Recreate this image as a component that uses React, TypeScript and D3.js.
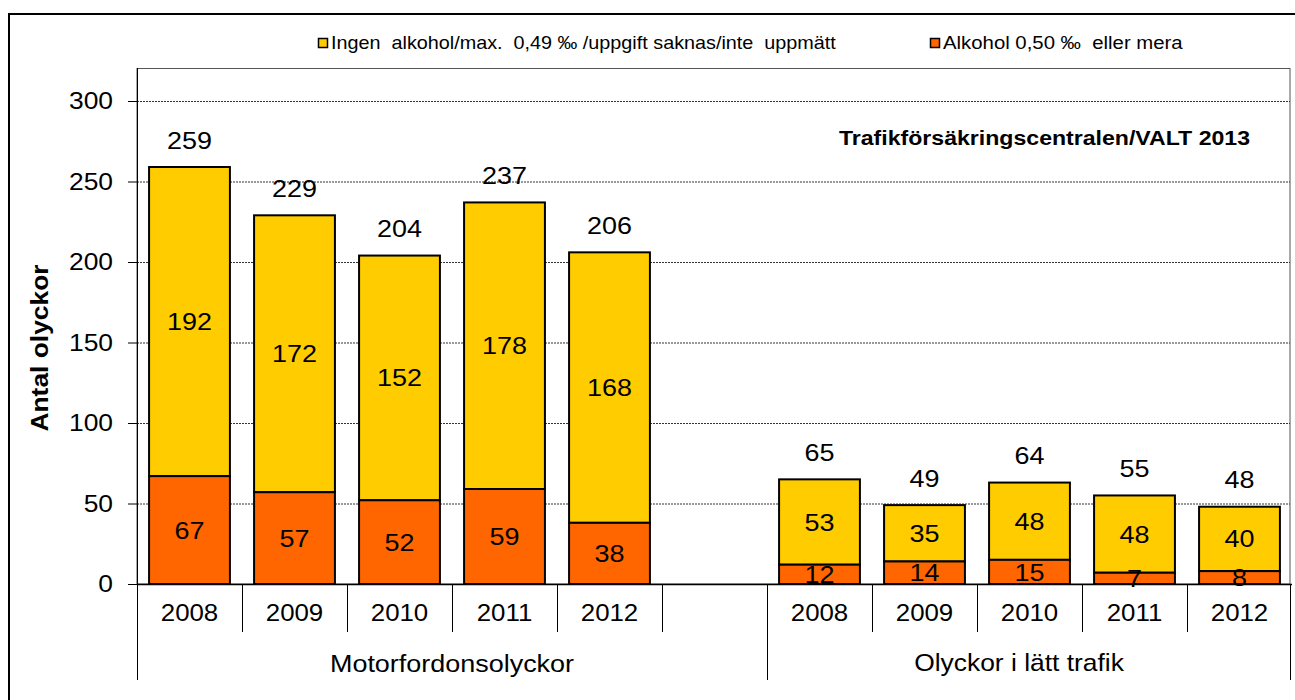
import React from "react";
import * as d3 from "d3";

const years = ["2008", "2009", "2010", "2011", "2012"];
const groups = ["Motorfordonsolyckor", "Olyckor i lätt trafik"];
const motorAlcohol = [67, 57, 52, 59, 38];
const motorNoAlcohol = [192, 172, 152, 178, 168];
const motorTotals = [259, 229, 204, 237, 206];
const lightAlcohol = [12, 14, 15, 7, 8];
const lightNoAlcohol = [53, 35, 48, 48, 40];
const lightTotals = [65, 49, 64, 55, 48];
const yTicks = [0, 50, 100, 150, 200, 250, 300];
const legendLabels = [
  "Ingen  alkohol/max.  0,49 ‰ /uppgift saknas/inte  uppmätt",
  "Alkohol 0,50 ‰  eller mera",
];
const source = "Trafikförsäkringscentralen/VALT 2013";
const yTitle = "Antal olyckor";

const W = 1295;
const H = 700;
const left = 137;
const right = 1292;
const top = 101;
const bottom = 584;
const YELLOW = "#FFCC00";
const ORANGE = "#FF6600";
const FONT = "'Liberation Sans', Arial, sans-serif";
const SX = 1.1;

type Row = { slot: number; year: string; a: number; n: number; t: number };
const rows: Row[] = [];
years.forEach((y, i) => rows.push({ slot: i, year: y, a: motorAlcohol[i], n: motorNoAlcohol[i], t: motorTotals[i] }));
years.forEach((y, i) => rows.push({ slot: i + 6, year: y, a: lightAlcohol[i], n: lightNoAlcohol[i], t: lightTotals[i] }));

const slots = d3.range(11).map(String);
const x = d3.scaleBand<string>().domain(slots).range([left, right]).paddingInner(0.23).paddingOuter(0.115);
const y = d3.scaleLinear().domain([0, 300]).range([bottom, top]);
const step = x.step();

function Txt(props: { x: number; y: number; size: number; anchor?: string; bold?: boolean; children: React.ReactNode; rotate?: number }) {
  const { x: tx, y: ty, size, anchor = "middle", bold, children, rotate } = props;
  const tr = rotate ? `translate(${tx},${ty}) rotate(${rotate}) scale(${SX},1)` : `translate(${tx},${ty}) scale(${SX},1)`;
  return (
    <text transform={tr} fontSize={size} fontFamily={FONT} fontWeight={bold ? "bold" : "normal"} textAnchor={anchor} dy="0.35em" fill="#000" style={{ whiteSpace: "pre" }}>
      {children}
    </text>
  );
}

export default function App() {
  const boundaries = d3.range(12).map((i) => left + i * step);
  return (
    <svg width={W} height={H} style={{ position: "absolute", left: 0, top: 0, background: "#fff" }}>
      <rect x={0} y={0} width={W} height={H} fill="#fff" />
      <rect x={9} y={14} width={1310} height={720} fill="none" stroke="#000" strokeWidth={2} />
      {/* plot area border */}
      <rect x={left} y={68.5} width={right - left - 2} height={bottom - 68.5} fill="none" stroke="#555" strokeWidth={1} />
      {/* gridlines */}
      {yTicks.filter((t) => t > 0).map((t) => (
        <line key={t} x1={left} x2={right - 2} y1={y(t) + 0.5} y2={y(t) + 0.5} stroke="#333" strokeWidth={1} strokeDasharray="2,1" />
      ))}
      {/* y ticks + labels */}
      {yTicks.map((t) => (
        <g key={t}>
          <line x1={128} x2={left} y1={y(t) + 0.5} y2={y(t) + 0.5} stroke="#000" strokeWidth={1} />
          <Txt x={113} y={y(t)} size={24} anchor="end">{t}</Txt>
        </g>
      ))}
      {/* bars */}
      {rows.map((r) => {
        const bx = x(String(r.slot))!;
        const bw = x.bandwidth();
        const cx = bx + bw / 2;
        return (
          <g key={r.slot}>
            <rect x={bx} y={y(r.a + r.n)} width={bw} height={y(r.a) - y(r.a + r.n)} fill={YELLOW} stroke="#000" strokeWidth={2} />
            <rect x={bx} y={y(r.a)} width={bw} height={y(0) - y(r.a)} fill={ORANGE} stroke="#000" strokeWidth={2} />
            <Txt x={cx} y={(y(r.a) + y(r.a + r.n)) / 2} size={24.5}>{r.n}</Txt>
            <Txt x={cx} y={(y(0) + y(r.a)) / 2} size={24.5}>{r.a}</Txt>
            <Txt x={cx} y={y(r.a + r.n) - 27} size={24.5}>{r.t}</Txt>
          </g>
        );
      })}
      {/* axes */}
      <line x1={left + 0.5} x2={left + 0.5} y1={68} y2={680} stroke="#000" strokeWidth={1} />
      <line x1={left} x2={right} y1={bottom + 0.5} y2={bottom + 0.5} stroke="#000" strokeWidth={1.5} />
      {boundaries.map((bx, i) => {
        const long = i === 0 || i === 6 || i === 11;
        return <line key={i} x1={bx - (i === 11 ? 2 : 0) + 0.5} x2={bx - (i === 11 ? 2 : 0) + 0.5} y1={bottom} y2={long ? 680 : 632} stroke="#000" strokeWidth={1} />;
      })}
      {rows.map((r) => (
        <Txt key={"yl" + r.slot} x={x(String(r.slot))! + x.bandwidth() / 2} y={613} size={23.5}>{r.year}</Txt>
      ))}
      <Txt x={left + 3 * step} y={663} size={24.5}>{groups[0]}</Txt>
      <Txt x={left + 8.4 * step} y={663} size={24}>{groups[1]}</Txt>
      {/* y title */}
      <Txt x={40} y={348} size={24} bold rotate={-90}>{yTitle}</Txt>
      {/* source */}
      <Txt x={1250} y={138} size={21} bold anchor="end">{source}</Txt>
      {/* legend */}
      <rect x={318.5} y={38.5} width={9} height={9} fill={YELLOW} stroke="#000" strokeWidth={1.5} />
      <Txt x={331} y={43} size={18} anchor="start">{legendLabels[0]}</Txt>
      <rect x={930.5} y={38.5} width={9} height={9} fill={ORANGE} stroke="#000" strokeWidth={1.5} />
      <Txt x={943} y={43} size={18.5} anchor="start">{legendLabels[1]}</Txt>
    </svg>
  );
}
